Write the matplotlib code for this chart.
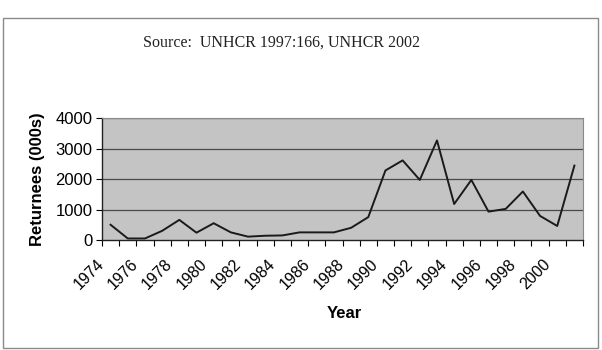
import matplotlib
matplotlib.use("Agg")
import matplotlib.pyplot as plt
import matplotlib.transforms as mtransforms
from matplotlib.patches import Rectangle

years = list(range(1974, 2002))
returnees = [500, 50, 50, 300, 660, 240, 550, 250, 110, 140, 150, 250, 250, 250,
             400, 750, 2280, 2610, 1970, 3265, 1180, 1970, 930, 1020, 1590, 790, 460, 2440]
y_ticks = [0, 1000, 2000, 3000, 4000]

fig = plt.figure(figsize=(6.02, 3.5), dpi=100)
fig.patch.set_facecolor("white")

# outer chart frame
fig.patches.append(Rectangle((3 / 602, 2 / 350), 595 / 602, 330 / 350,
                             transform=fig.transFigure, fill=False,
                             edgecolor="#8a8a8a", linewidth=1.0))

fig.text(0.468, 0.877, "Source:  UNHCR 1997:166, UNHCR 2002",
         family="Liberation Serif", fontsize=11.5, color="#222222",
         ha="center", va="center")

ax = fig.add_axes([102 / 602, 1 - 240 / 350, 481 / 602, 122 / 350])
ax.set_facecolor("#c4c4c4")

x = list(range(len(years)))
ax.plot(x, returnees, color="#1a1a1a", linewidth=1.4, zorder=3)

ax.set_xlim(-0.5, len(years) - 0.5)
ax.set_ylim(0, 4000)

for v in y_ticks[1:]:
    ax.axhline(v, color="#4a4a4a", linewidth=0.9, zorder=1)

# ticks at category boundaries, labels every second year
ax.set_xticks([i - 0.5 for i in range(len(years) + 1)])
ax.set_xticklabels([])
ax.set_xticks(x[::2], minor=True)
ax.set_xticklabels([str(y) for y in years[::2]], minor=True, rotation=45,
                   ha="right", va="top", fontsize=11.5, family="Liberation Sans")
ax.tick_params(axis="x", which="major", length=4, width=0.8, direction="out")
ax.tick_params(axis="x", which="minor", length=0, pad=12)
shift = mtransforms.ScaledTranslation(-4 / 100, 0, fig.dpi_scale_trans)
for lbl in ax.get_xticklabels(minor=True):
    lbl.set_transform(lbl.get_transform() + shift)

ax.set_yticks(y_ticks)
ax.set_yticklabels([str(v) for v in y_ticks], fontsize=12, family="Liberation Sans")
ax.tick_params(axis="y", length=4, width=0.8, pad=3)

for s in ["left", "bottom"]:
    ax.spines[s].set_color("#222222")
    ax.spines[s].set_linewidth(1.0)
for s in ["top", "right"]:
    ax.spines[s].set_color("#8a8a8a")
    ax.spines[s].set_linewidth(0.8)

ax.set_ylabel("Returnees (000s)", fontsize=12, fontweight="bold",
              family="Liberation Sans", labelpad=7)
fig.text(344 / 602, 1 - 314 / 350, "Year", fontsize=12, fontweight="bold",
         family="Liberation Sans", ha="center", va="center")

fig.savefig("out.png", dpi=100)
